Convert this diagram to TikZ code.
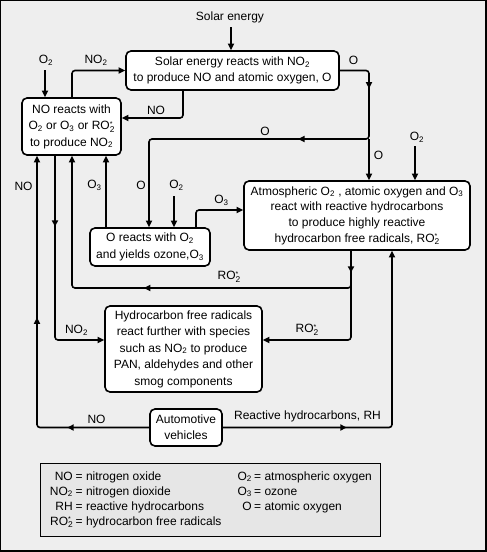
\documentclass[tikz,border=0pt]{standalone}
\usepackage{fontspec}
\setmainfont{Liberation Sans}
\usetikzlibrary{arrows.meta,decorations.markings,calc}
\newcommand\tsub[1]{\textsubscript{#1}}
\newcommand\ROs{RO\makebox[0pt][l]{\raisebox{3.2pt}{\fontsize{7}{7}\selectfont *}}\raisebox{-2.6pt}{\fontsize{8.4}{8.4}\selectfont 2}}
\definecolor{bg}{HTML}{EEEEEE}
\definecolor{lg}{HTML}{E6E6E6}
\begin{document}
\begin{tikzpicture}[x=1pt,y=-1pt,
  every node/.style={font=\fontsize{12}{16.5}\selectfont, inner sep=0pt},
  box/.style={draw, line width=1.6pt, rounded corners=5pt, fill=white, align=center},
  conn/.style={line width=1.6pt, rounded corners=3pt},
  tipend/.style={-{Triangle[length=6.5pt,width=6pt]}},
  midtip/.style={postaction={decorate,decoration={markings,mark=at position #1 with {\arrow{Triangle[length=6.5pt,width=6pt]}}}}},
  leftlbl/.style={anchor=base east},
  rightlbl/.style={anchor=base west}]
% frame and background
\fill[black] (0,0) rectangle (487,552);
\fill[bg] (1,1) rectangle (485,550);
\useasboundingbox (0,0) rectangle (487,552);

% boxes
\node[box, minimum width=213pt, minimum height=39pt] (b1) at (232.5,70.5)
  {Solar energy reacts with NO\tsub2\\to produce NO and atomic oxygen, O};
\node[box, minimum width=99pt, minimum height=57pt] (b2) at (71.5,126.5)
  {NO reacts with\\O\tsub2 or O\tsub3 or \ROs\\to produce NO\tsub2};
\node[box, minimum width=226pt, minimum height=69pt, font=\fontsize{12}{15.7}\selectfont] (b3) at (357,215.5)
  {Atmospheric O\tsub2 , atomic oxygen and O\tsub3\\react with reactive hydrocarbons\\to produce highly reactive\\hydrocarbon free radicals, \ROs};
\node[box, minimum width=120pt, minimum height=38pt] (b4) at (150,247)
  {O reacts with O\tsub2\\and yields ozone,O\tsub3};
\node[box, minimum width=157pt, minimum height=86pt] (b5) at (183.5,349)
  {Hydrocarbon free radicals\\react further with species\\such as NO\tsub2 to produce\\PAN, aldehydes and other\\smog components};
\node[box, minimum width=72pt, minimum height=37pt, font=\fontsize{12}{16}\selectfont] (auto) at (186,427.5)
  {Automotive\\vehicles};

% helper coordinates
\coordinate (xa) at (37,0);
\coordinate (xb) at (55,0);
\coordinate (xc) at (72,0);
\coordinate (xd) at (106,0);
\coordinate (xe) at (149,0);
\coordinate (xf) at (174,0);
\coordinate (xg) at (196,0);
\coordinate (xh) at (351,0);
\coordinate (xi) at (369,0);
\coordinate (xj) at (392,0);
\coordinate (xk) at (415,0);
\coordinate (xs) at (231,0);
\coordinate (xn) at (183,0);
\coordinate (xo) at (45,0);
\coordinate (yb) at (0,118);
\coordinate (yc) at (0,139);
\coordinate (yd) at (0,210);
\coordinate (ye) at (0,288);
\coordinate (yf) at (0,340);
\coordinate (split) at (xi |- yc);

% labels
\node (se) at (230,17) {Solar energy};
\node (o2a) at (46,60) {O\tsub2};
\node (lno2a) at (96,60) {NO\tsub2};
\node (lnoa) at (156,110) {NO};
\node (loa) at (353.5,60) {O};
\node (lob) at (265,131) {O};
\node (loc) at (378.5,155) {O};
\node (o2c) at (417,137) {O\tsub2};
\node (lnob) at (23.5,186) {NO};
\node (lo3a) at (94.5,185) {O\tsub3};
\node (lod) at (141,185) {O};
\node (o2b) at (176.5,185) {O\tsub2};
\node (lo3b) at (221.5,200) {O\tsub3};
\node (lroa) at (229,277) {\ROs};
\node (lno2b) at (76.5,330) {NO\tsub2};
\node (lrob) at (307,330) {\ROs};
\node (lnoc) at (96.5,419) {NO};
\node (lrh) at (307.5,416) {Reactive hydrocarbons, RH};

% connectors
\draw[conn,tipend] ($(se.center -| xs)+(0,10)$) -- (b1.north -| xs);
\draw[conn,tipend] ($(o2a.center -| xo)+(0,10)$) -- (b2.north -| xo);
\draw[conn,tipend] ($(o2b.center -| xf)+(0,11)$) -- (b4.north -| xf);
\draw[conn,tipend] ($(o2c.center -| xk)+(0,9)$) -- (b3.north -| xk);
\draw[conn,tipend] (b2.north -| xc) |- (b1.west);
\draw[conn,tipend] (b1.south -| xn) |- (b2.east |- yb);
\draw[conn,tipend,midtip=46pt,midtip=166pt] (b1.east) -| (split) -| (b4.north -| xe);
\draw[conn,tipend] (split) -- (b3.north -| xi);
\draw[conn,tipend] (b4.north -| xg) |- (b3.west |- yd);
\draw[conn,tipend] (b4.north -| xd) -- (b2.south -| xd);
\draw[conn,tipend,midtip=82pt,midtip=221pt] (auto.west) -| (b2.south -| xa);
\draw[conn,tipend,midtip=71pt] (b2.south -| xb) |- (b5.west |- yf);
\draw[conn,tipend,midtip=22pt,midtip=243pt] (b3.south -| xh) |- (xc |- ye) -- (b2.south -| xc);
\draw[conn,tipend] (b3.south -| xh) |- (b5.east |- yf);
\draw[conn,tipend,midtip=124pt] (auto.east) -| (b3.south -| xj);

% legend
\node[draw, line width=0.8pt, fill=lg, minimum width=340pt, minimum height=73pt] (leg) at (210.5,500) {};
\node[leftlbl] (k1) at (73,480) {NO};
\node[rightlbl] (v1) at (75.5,480) {= nitrogen oxide};
\node[leftlbl] (k2) at (73,495) {NO\tsub2};
\node[rightlbl] (v2) at (75.5,495) {= nitrogen dioxide};
\node[leftlbl] (k3) at (73,510) {RH};
\node[rightlbl] (v3) at (75.5,510) {= reactive hydrocarbons};
\node[leftlbl] (k4) at (73,525) {\ROs};
\node[rightlbl] (v4) at (75.5,525) {= hydrocarbon free radicals};
\node[leftlbl] (k5) at (252,480) {O\tsub2};
\node[rightlbl] (v5) at (254,480) {= atmospheric oxygen};
\node[leftlbl] (k6) at (252,495) {O\tsub3};
\node[rightlbl] (v6) at (254,495) {= ozone};
\node[leftlbl] (k7) at (252,510) {O};
\node[rightlbl] (v7) at (254,510) {= atomic oxygen};
\end{tikzpicture}
\end{document}
